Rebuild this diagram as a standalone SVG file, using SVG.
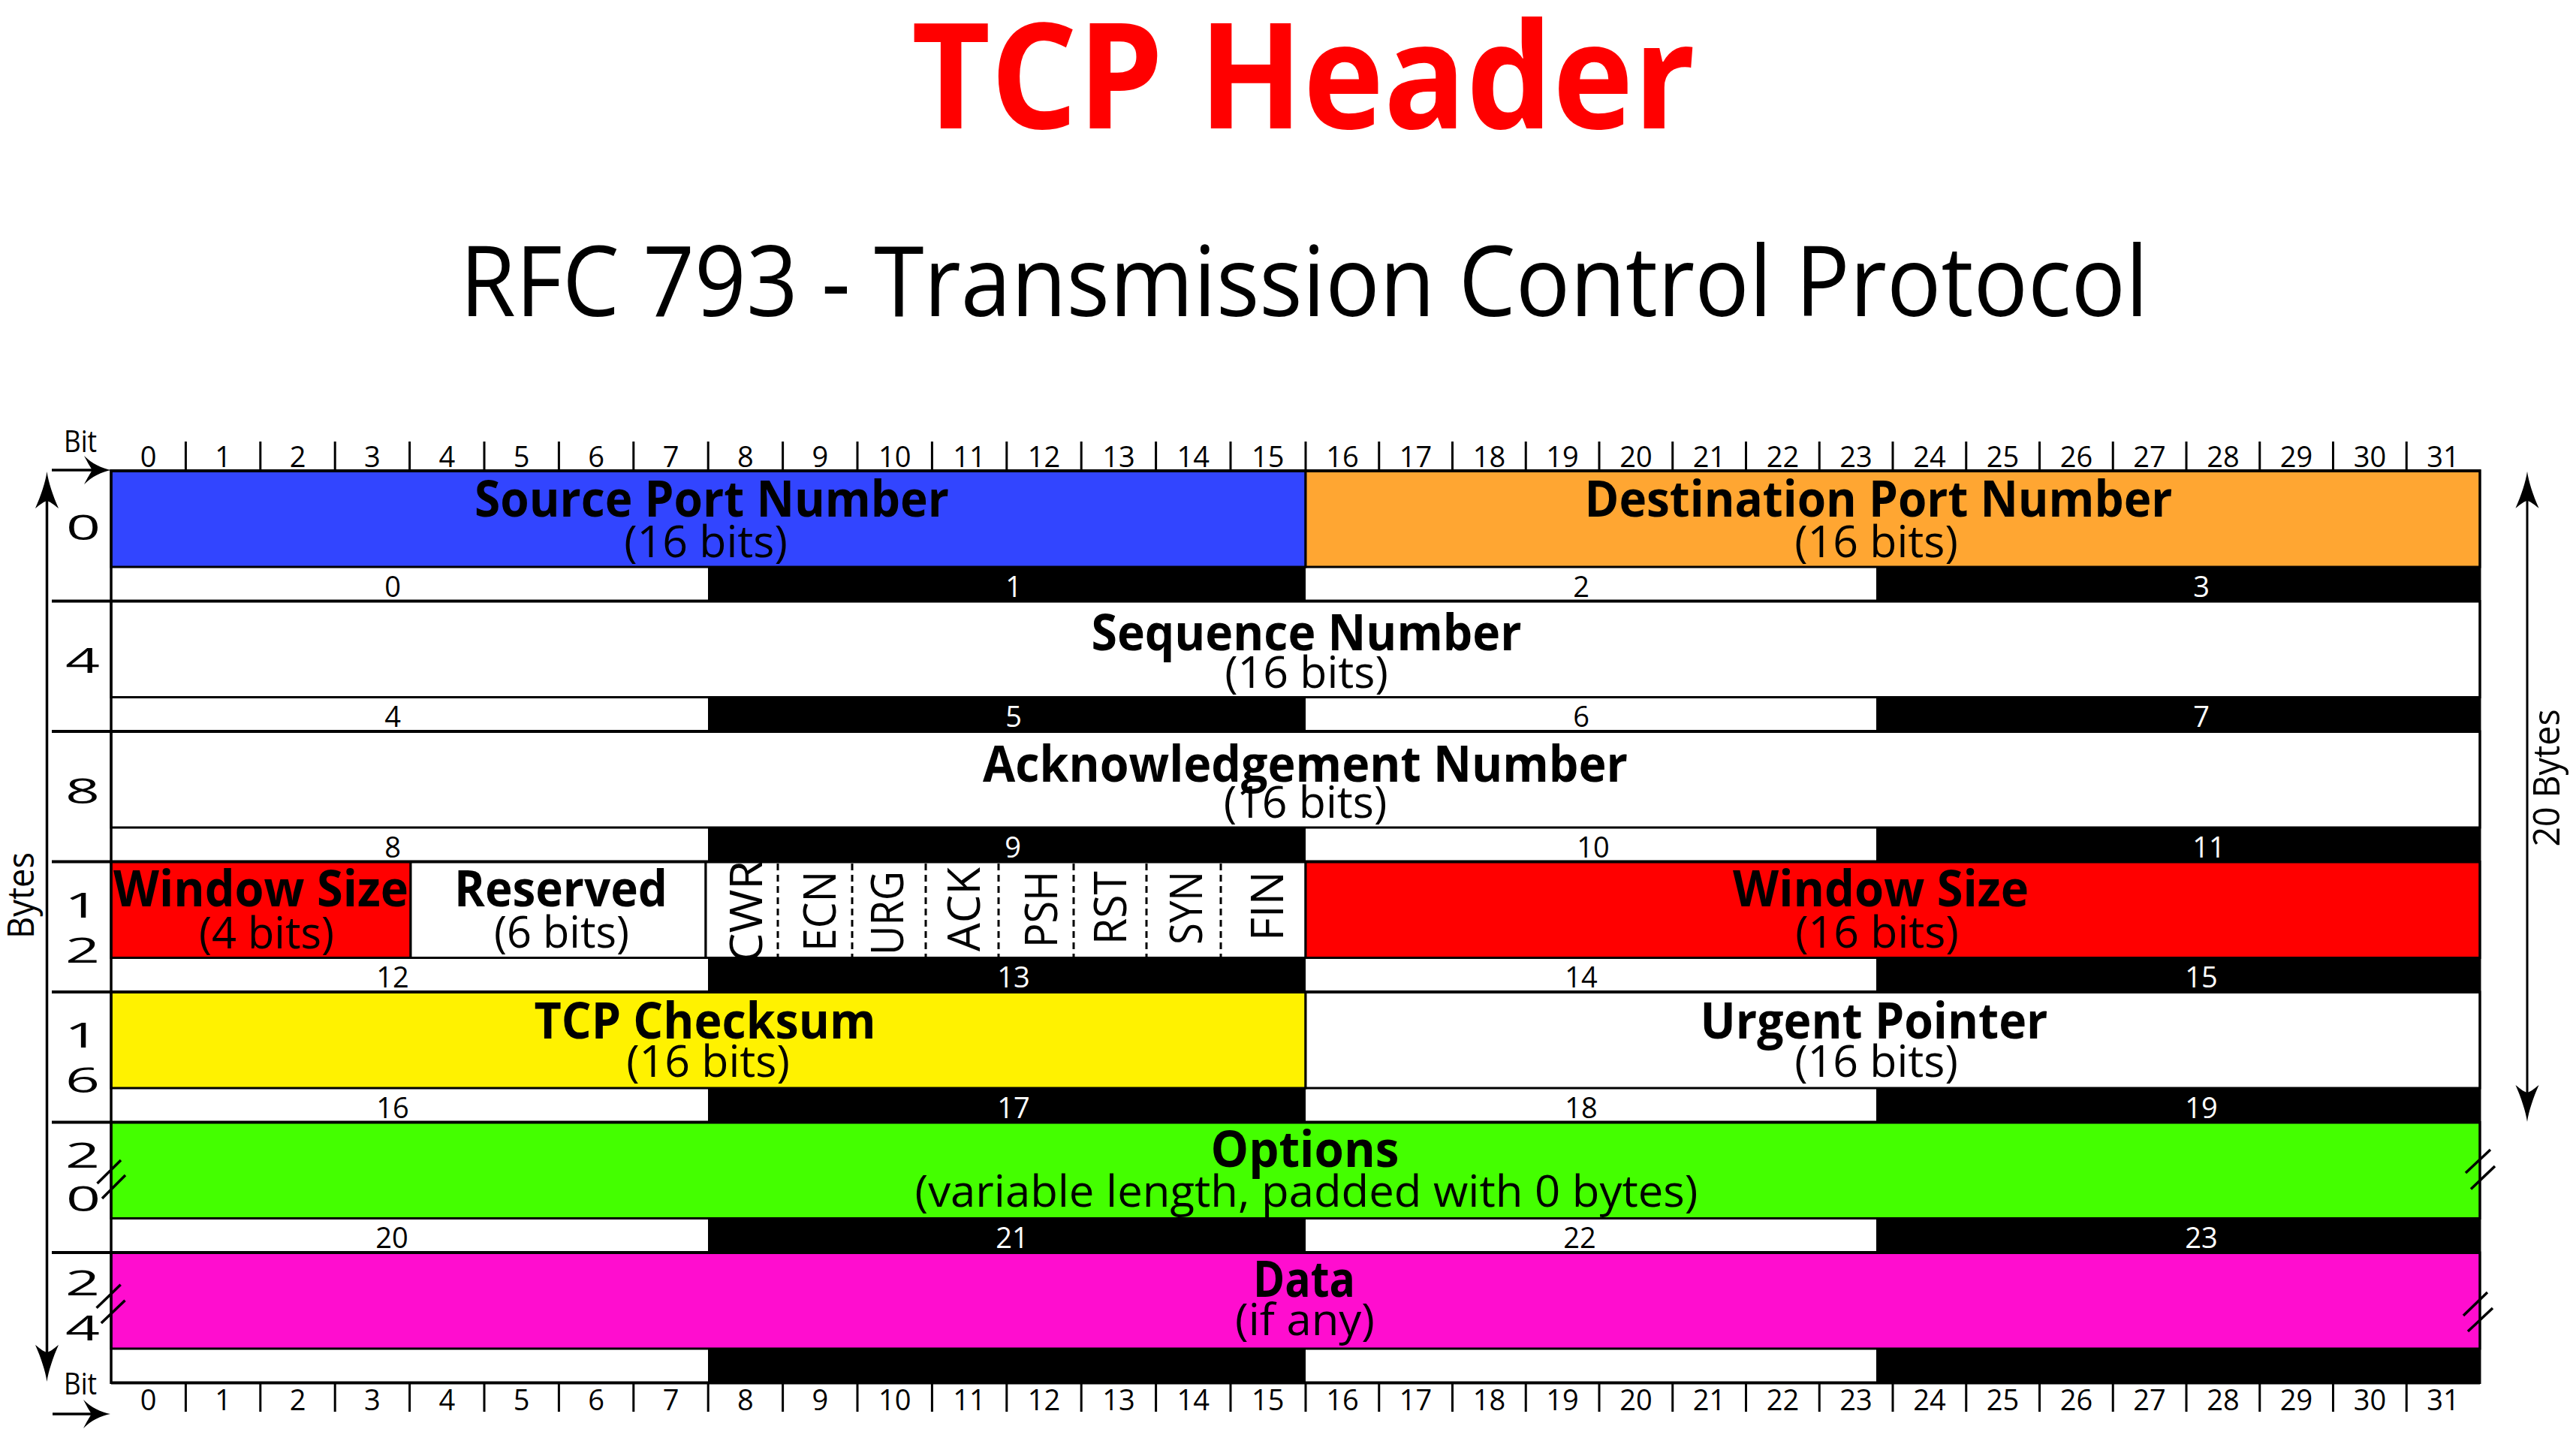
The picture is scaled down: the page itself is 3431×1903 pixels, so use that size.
<svg xmlns="http://www.w3.org/2000/svg" width="3431" height="1903" viewBox="0 0 3431 1903">
<style>
text{font-family:"Open Sans","Liberation Sans",sans-serif;fill:#000;}
.t{font-weight:700;font-size:66px;text-anchor:middle;}
.s{font-size:59px;text-anchor:middle;}
.n{font-size:38px;text-anchor:middle;}
.wt{fill:#fff;}
.box{stroke:#000;stroke-width:3;}
.blk{fill:#000;}
.sep{stroke:#000;stroke-width:4;fill:none;}
.thin{stroke:#000;stroke-width:3;fill:none;}
.flag{font-size:61px;}
.bn{font-size:46px;text-anchor:middle;}
.dash{stroke:#000;stroke-width:3;stroke-dasharray:9 6;fill:none;}
.brk{stroke:#000;stroke-width:3.5;fill:none;}
</style>
<defs>
<path id="ahh" d="M0,0 C-12,2 -26,9 -36,19 C-31,10 -28,4 -25,0 C-28,-4 -31,-10 -36,-19 C-26,-9 -12,-2 0,0 Z"/>
<path id="ahv" d="M0,0 C2,14 8,32 15.5,49 C8,43 4,40 0,39 C-4,40 -8,43 -15.5,49 C-8,32 -2,14 0,0 Z"/>
<clipPath id="cwrclip"><rect x="941" y="1149" width="95" height="125"/></clipPath>
</defs>
<rect width="3431" height="1903" fill="#fff"/>

<g id="title">
<text x="1736" y="171" font-size="195" font-weight="700" text-anchor="middle" style="fill:#FF0000" textLength="1044" lengthAdjust="spacingAndGlyphs">TCP Header</text>
</g>
<g id="subtitle">
<text x="1737" y="421" font-size="130" text-anchor="middle" textLength="2249" lengthAdjust="spacingAndGlyphs">RFC 793 - Transmission Control Protocol</text>
</g>

<!-- strips (black byte cells) -->
<g id="byte-strips">
<rect class="blk" x="943" y="755" width="796" height="45.5"/><rect class="blk" x="2499" y="755" width="804" height="45.5"/>
<rect class="blk" x="943" y="928.5" width="796" height="45.5"/><rect class="blk" x="2499" y="928.5" width="804" height="45.5"/>
<rect class="blk" x="943" y="1102" width="796" height="45.5"/><rect class="blk" x="2499" y="1102" width="804" height="45.5"/>
<rect class="blk" x="943" y="1275.5" width="796" height="45.5"/><rect class="blk" x="2499" y="1275.5" width="804" height="45.5"/>
<rect class="blk" x="943" y="1449" width="796" height="45.5"/><rect class="blk" x="2499" y="1449" width="804" height="45.5"/>
<rect class="blk" x="943" y="1622.5" width="796" height="45.5"/><rect class="blk" x="2499" y="1622.5" width="804" height="45.5"/>
<rect class="blk" x="943" y="1796" width="796" height="45.5"/><rect class="blk" x="2499" y="1796" width="804" height="45.5"/>
</g>
<g id="byte-numbers">
<text class="n" x="523" y="794.5">0</text><text class="n wt" x="1350" y="794.5">1</text><text class="n" x="2106" y="794.5">2</text><text class="n wt" x="2932" y="794.5">3</text>
<text class="n" x="523" y="968">4</text><text class="n wt" x="1350" y="968">5</text><text class="n" x="2106" y="968">6</text><text class="n wt" x="2932" y="968">7</text>
<text class="n" x="523" y="1141.5">8</text><text class="n wt" x="1349" y="1141.5">9</text><text class="n" x="2122" y="1141.5">10</text><text class="n wt" x="2942" y="1141.5">11</text>
<text class="n" x="523" y="1315">12</text><text class="n wt" x="1350" y="1315">13</text><text class="n" x="2106" y="1315">14</text><text class="n wt" x="2932" y="1315">15</text>
<text class="n" x="523" y="1488.5">16</text><text class="n wt" x="1350" y="1488.5">17</text><text class="n" x="2106" y="1488.5">18</text><text class="n wt" x="2932" y="1488.5">19</text>
<text class="n" x="522" y="1662">20</text><text class="n wt" x="1348" y="1662">21</text><text class="n" x="2104" y="1662">22</text><text class="n wt" x="2932" y="1662">23</text>
</g>

<g id="source-port">
<rect class="box" x="148" y="627" width="1591" height="128" fill="#3245FF"/>
<text class="t" x="948" y="688" textLength="632" lengthAdjust="spacingAndGlyphs">Source Port Number</text>
<text class="s" x="940" y="742">(16 bits)</text>
</g>
<g id="destination-port">
<rect class="box" x="1739" y="627" width="1564" height="128" fill="#FFA632"/>
<text class="t" x="2502" y="688" textLength="783" lengthAdjust="spacingAndGlyphs">Destination Port Number</text>
<text class="s" x="2499" y="742">(16 bits)</text>
</g>
<g id="sequence-number">
<rect class="box" x="148" y="800.5" width="3155" height="128" fill="#fff"/>
<text class="t" x="1740" y="865.5" textLength="573" lengthAdjust="spacingAndGlyphs">Sequence Number</text>
<text class="s" x="1740" y="915.5">(16 bits)</text>
</g>
<g id="ack-number">
<rect class="box" x="148" y="974" width="3155" height="128" fill="#fff"/>
<text class="t" x="1738.5" y="1041" textLength="859" lengthAdjust="spacingAndGlyphs">Acknowledgement Number</text>
<text class="s" x="1738.5" y="1089">(16 bits)</text>
</g>
<g id="window-size-4">
<rect class="box" x="148" y="1147.5" width="399" height="128" fill="#FF0000"/>
<text class="t" x="347.5" y="1207" textLength="393" lengthAdjust="spacingAndGlyphs">Window Size</text>
<text class="s" x="355" y="1263" textLength="180" lengthAdjust="spacingAndGlyphs">(4 bits)</text>
</g>
<g id="reserved">
<rect class="box" x="547" y="1147.5" width="393" height="128" fill="#fff"/>
<text class="t" x="747" y="1207" textLength="284" lengthAdjust="spacingAndGlyphs">Reserved</text>
<text class="s" x="748" y="1262" textLength="180" lengthAdjust="spacingAndGlyphs">(6 bits)</text>
</g>
<g id="flags">
<rect class="box" x="940" y="1147.5" width="799" height="128" fill="#fff"/>
<path class="dash" d="M1036,1150V1274M1135,1150V1274M1233,1150V1274M1330,1150V1274M1430,1150V1274M1527,1150V1274M1626,1150V1274"/>
<g clip-path="url(#cwrclip)"><text class="flag" transform="translate(1015,1282) rotate(-90)" textLength="136" lengthAdjust="spacingAndGlyphs">CWR</text></g>
<text class="flag" transform="translate(1113,1267) rotate(-90)" textLength="107" lengthAdjust="spacingAndGlyphs">ECN</text>
<text class="flag" transform="translate(1203,1272) rotate(-90)" textLength="112" lengthAdjust="spacingAndGlyphs">URG</text>
<text class="flag" transform="translate(1305,1267) rotate(-90)" textLength="112" lengthAdjust="spacingAndGlyphs">ACK</text>
<text class="flag" transform="translate(1408,1262) rotate(-90)" textLength="102" lengthAdjust="spacingAndGlyphs">PSH</text>
<text class="flag" transform="translate(1500,1258) rotate(-90)" textLength="98" lengthAdjust="spacingAndGlyphs">RST</text>
<text class="flag" transform="translate(1601,1258) rotate(-90)" textLength="98" lengthAdjust="spacingAndGlyphs">SYN</text>
<text class="flag" transform="translate(1709,1253) rotate(-90)" textLength="93" lengthAdjust="spacingAndGlyphs">FIN</text>
</g>
<g id="window-size-16">
<rect class="box" x="1739" y="1147.5" width="1564" height="128" fill="#FF0000"/>
<text class="t" x="2505" y="1207" textLength="394" lengthAdjust="spacingAndGlyphs">Window Size</text>
<text class="s" x="2500" y="1262">(16 bits)</text>
</g>
<g id="tcp-checksum">
<rect class="box" x="148" y="1321" width="1591" height="128" fill="#FFF200"/>
<text class="t" x="939" y="1383" textLength="455" lengthAdjust="spacingAndGlyphs">TCP Checksum</text>
<text class="s" x="943" y="1434">(16 bits)</text>
</g>
<g id="urgent-pointer">
<rect class="box" x="1739" y="1321" width="1564" height="128" fill="#fff"/>
<text class="t" x="2496" y="1383" textLength="463" lengthAdjust="spacingAndGlyphs">Urgent Pointer</text>
<text class="s" x="2499" y="1434">(16 bits)</text>
</g>
<g id="options">
<rect class="box" x="148" y="1494.5" width="3155" height="128" fill="#44FF00"/>
<text class="t" x="1738" y="1554" textLength="251" lengthAdjust="spacingAndGlyphs">Options</text>
<text class="s" x="1740" y="1607" textLength="1043" lengthAdjust="spacingAndGlyphs">(variable length, padded with 0 bytes)</text>
<path class="brk" d="M129.5,1576L161,1545M136,1596L167,1565M3284,1562L3317,1531M3291,1583.5L3323,1553"/>
</g>
<g id="data">
<rect class="box" x="148" y="1668" width="3155" height="128" fill="#FF0DCF"/>
<text class="t" x="1737" y="1727" textLength="136" lengthAdjust="spacingAndGlyphs">Data</text>
<text class="s" x="1738" y="1778" textLength="186" lengthAdjust="spacingAndGlyphs">(if any)</text>
<path class="brk" d="M128.6,1741.7L160.7,1710.7M134.8,1762L166.5,1731.7M3281,1752L3313,1721M3287,1773L3320,1742"/>
</g>

<g id="grid-lines">
<path class="sep" d="M148,627H3303M69,800.5H3303M69,974H3303M69,1147.5H3303M69,1321H3303M69,1494.5H3303M69,1668H3303M148,1841.5H3303"/>
<path stroke="#000" stroke-width="3.5" fill="none" d="M148,625V1843"/>
<path class="thin" d="M3303,625V1843"/>
</g>

<g id="bit-ruler-top">
<path class="thin" d="M247.4,588V627M346.8,588V627M446.2,588V627M545.6,588V627M645,588V627M744.4,588V627M843.8,588V627M943.2,588V627M1042.6,588V627M1142,588V627M1241.4,588V627M1340.8,588V627M1440.2,588V627M1539.6,588V627M1639,588V627M1739,588V627M1836.75,588V627M1934.5,588V627M2032.25,588V627M2130,588V627M2227.75,588V627M2325.5,588V627M2423.25,588V627M2521,588V627M2618.75,588V627M2716.5,588V627M2814.25,588V627M2912,588V627M3009.75,588V627M3107.5,588V627M3205.25,588V627"/>
<text class="n" x="197.7" y="622">0</text><text class="n" x="297.1" y="622">1</text><text class="n" x="396.5" y="622">2</text><text class="n" x="495.9" y="622">3</text><text class="n" x="595.3" y="622">4</text><text class="n" x="694.7" y="622">5</text><text class="n" x="794.1" y="622">6</text><text class="n" x="893.5" y="622">7</text><text class="n" x="992.9" y="622">8</text><text class="n" x="1092.3" y="622">9</text><text class="n" x="1191.7" y="622">10</text><text class="n" x="1291.1" y="622">11</text><text class="n" x="1390.5" y="622">12</text><text class="n" x="1489.9" y="622">13</text><text class="n" x="1589.3" y="622">14</text><text class="n" x="1688.7" y="622">15</text><text class="n" x="1787.9" y="622">16</text><text class="n" x="1885.6" y="622">17</text><text class="n" x="1983.4" y="622">18</text><text class="n" x="2081.1" y="622">19</text><text class="n" x="2178.9" y="622">20</text><text class="n" x="2276.6" y="622">21</text><text class="n" x="2374.4" y="622">22</text><text class="n" x="2472.1" y="622">23</text><text class="n" x="2569.9" y="622">24</text><text class="n" x="2667.6" y="622">25</text><text class="n" x="2765.4" y="622">26</text><text class="n" x="2863.1" y="622">27</text><text class="n" x="2960.9" y="622">28</text><text class="n" x="3058.6" y="622">29</text><text class="n" x="3156.4" y="622">30</text><text class="n" x="3254.1" y="622">31</text>
<text x="107" y="602" font-size="40" text-anchor="middle" textLength="44" lengthAdjust="spacingAndGlyphs">Bit</text>
</g>
<g id="bit-ruler-bottom">
<path class="thin" d="M247.4,1841V1880M346.8,1841V1880M446.2,1841V1880M545.6,1841V1880M645,1841V1880M744.4,1841V1880M843.8,1841V1880M943.2,1841V1880M1042.6,1841V1880M1142,1841V1880M1241.4,1841V1880M1340.8,1841V1880M1440.2,1841V1880M1539.6,1841V1880M1639,1841V1880M1739,1841V1880M1836.75,1841V1880M1934.5,1841V1880M2032.25,1841V1880M2130,1841V1880M2227.75,1841V1880M2325.5,1841V1880M2423.25,1841V1880M2521,1841V1880M2618.75,1841V1880M2716.5,1841V1880M2814.25,1841V1880M2912,1841V1880M3009.75,1841V1880M3107.5,1841V1880M3205.25,1841V1880"/>
<text class="n" x="197.7" y="1878">0</text><text class="n" x="297.1" y="1878">1</text><text class="n" x="396.5" y="1878">2</text><text class="n" x="495.9" y="1878">3</text><text class="n" x="595.3" y="1878">4</text><text class="n" x="694.7" y="1878">5</text><text class="n" x="794.1" y="1878">6</text><text class="n" x="893.5" y="1878">7</text><text class="n" x="992.9" y="1878">8</text><text class="n" x="1092.3" y="1878">9</text><text class="n" x="1191.7" y="1878">10</text><text class="n" x="1291.1" y="1878">11</text><text class="n" x="1390.5" y="1878">12</text><text class="n" x="1489.9" y="1878">13</text><text class="n" x="1589.3" y="1878">14</text><text class="n" x="1688.7" y="1878">15</text><text class="n" x="1787.9" y="1878">16</text><text class="n" x="1885.6" y="1878">17</text><text class="n" x="1983.4" y="1878">18</text><text class="n" x="2081.1" y="1878">19</text><text class="n" x="2178.9" y="1878">20</text><text class="n" x="2276.6" y="1878">21</text><text class="n" x="2374.4" y="1878">22</text><text class="n" x="2472.1" y="1878">23</text><text class="n" x="2569.9" y="1878">24</text><text class="n" x="2667.6" y="1878">25</text><text class="n" x="2765.4" y="1878">26</text><text class="n" x="2863.1" y="1878">27</text><text class="n" x="2960.9" y="1878">28</text><text class="n" x="3058.6" y="1878">29</text><text class="n" x="3156.4" y="1878">30</text><text class="n" x="3254.1" y="1878">31</text>
<text x="107" y="1857" font-size="40" text-anchor="middle" textLength="44" lengthAdjust="spacingAndGlyphs">Bit</text>
</g>

<g id="byte-offsets">
<text class="bn" transform="translate(111,719) scale(1.75,1)">0</text>
<text class="bn" transform="translate(110,896) scale(1.75,1)">4</text>
<text class="bn" transform="translate(110,1070) scale(1.75,1)">8</text>
<text class="bn" transform="translate(109,1222) scale(1.75,1)">1</text>
<text class="bn" transform="translate(110,1282) scale(1.75,1)">2</text>
<text class="bn" transform="translate(109,1395) scale(1.75,1)">1</text>
<text class="bn" transform="translate(110,1455) scale(1.75,1)">6</text>
<text class="bn" transform="translate(110,1555) scale(1.75,1)">2</text>
<text class="bn" transform="translate(111,1613) scale(1.75,1)">0</text>
<text class="bn" transform="translate(110,1725) scale(1.75,1)">2</text>
<text class="bn" transform="translate(110,1785) scale(1.75,1)">4</text>
<text transform="translate(45,1192.5) rotate(-90)" font-size="50" text-anchor="middle" textLength="115" lengthAdjust="spacingAndGlyphs">Bytes</text>
<text transform="translate(3409,1036) rotate(-90)" font-size="50" text-anchor="middle" textLength="183" lengthAdjust="spacingAndGlyphs">20 Bytes</text>
</g>

<g id="connectors">
<path stroke="#000" stroke-width="3.5" fill="none" d="M69,626H125M70,1883H125M62.5,665V1803"/>
<path class="thin" d="M3366,665V1457"/>
<use href="#ahh" x="148" y="626"/>
<use href="#ahh" x="147" y="1883"/>
<use href="#ahv" x="62.5" y="628"/>
<use href="#ahv" transform="translate(62.5,1840) rotate(180)"/>
<use href="#ahv" x="3366" y="627.7"/>
<use href="#ahv" transform="translate(3366,1494) rotate(180)"/>
</g>
</svg>
